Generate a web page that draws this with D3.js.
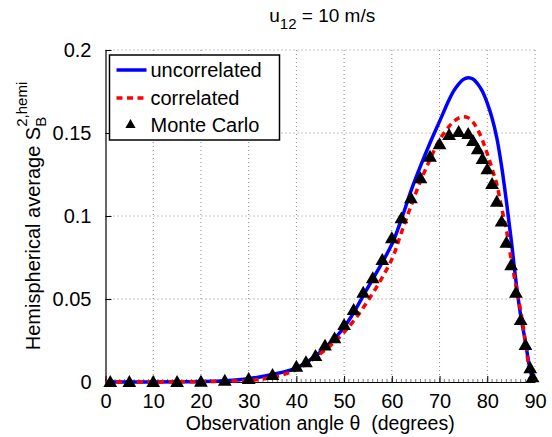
<!DOCTYPE html>
<html>
<head>
<meta charset="utf-8">
<script src="https://cdn.jsdelivr.net/npm/d3@7"></script>
<style>
  body { margin: 0; background: #fff; }
  text { font-family: "Liberation Sans", Arial, Helvetica, sans-serif; fill: #000; white-space: pre; }
</style>
</head>
<body>
<div id="chart"></div>
<script>
const margin = {'top':50,'right':17,'bottom':55,'left':105.5};
const width = 552 - margin.left - margin.right;
const height = 437 - margin.top - margin.bottom;

// curves (theta in degrees)
const theta = [0,5,10,15,20,25,30,35,40,45,50,55,60,62,64,66,68,70,72,73,74,75,76,77,78,79,80,81,82,83,84,85,86,87,88,88.5,89,89.5];
const uncorrelated = [0,0,0,0.0001,0.0003,0.0008,0.002,0.0045,0.0085,0.018,0.033,0.057,0.083,0.098,0.115,0.130,0.144,0.157,0.170,0.1755,0.1795,0.1823,0.1833,0.1825,0.1795,0.175,0.168,0.159,0.147,0.130,0.109,0.086,0.061,0.040,0.024,0.015,0.007,0.002];
const correlated = [0,0,0,0.0001,0.0002,0.0005,0.001,0.0028,0.0075,0.017,0.030,0.049,0.074,0.090,0.106,0.121,0.134,0.146,0.154,0.157,0.1590,0.1598,0.1592,0.1565,0.152,0.1455,0.1375,0.1285,0.119,0.105,0.0916,0.074,0.058,0.043,0.024,0.013,0.003,0.0005];

// Monte Carlo points
const mcTheta = [1,5,10,15,20,25,30,35,40,42,44,46,48,50,52,54,56,58,60,62,64,66,68,70,72,74,76,77,78,79,80,81,82,83,84,85,86,87,88,89,89.5];
const mcValue = [0,0,0,0,0.0002,0.0008,0.0018,0.0042,0.0092,0.0119,0.0157,0.0219,0.0263,0.0343,0.0434,0.0538,0.0625,0.0735,0.0866,0.0986,0.1107,0.1227,0.1357,0.1432,0.1488,0.1506,0.1494,0.1452,0.1402,0.1343,0.1281,0.1193,0.1086,0.0966,0.0839,0.0703,0.0538,0.0373,0.0223,0.0083,0.0028];

const xTicks = [0,10,20,30,40,50,60,70,80,90];
const yTicks = [0,0.05,0.1,0.15,0.2];
const legendLabels = ['uncorrelated','correlated','Monte Carlo'];

var svg, x, y;

function setup(){
  const root = d3.select('#chart')
    .append('svg')
    .attr('width', 552)
    .attr('height', 437);
  svg = root.append('g')
    .attr('transform', `translate(${margin.left},${margin.top})`);

  // title
  const t = root.append('text')
    .attr('x', margin.left + width/2 + 2)
    .attr('y', 22)
    .attr('text-anchor','middle')
    .style('font-size','19px');
  t.append('tspan').text('u');
  t.append('tspan').attr('dy',7).style('font-size','15px').text('12');
  t.append('tspan').attr('dy',-7).text(' = 10 m/s');
}

function setScales(){
  x = d3.scaleLinear().domain([0,90]).range([0,width]);
  y = d3.scaleLinear().domain([0,0.2]).range([height,0]);

  // dotted grid
  svg.append('g').selectAll('line')
    .data(xTicks.slice(1))
    .enter().append('line')
    .attr('x1', d => x(d)).attr('x2', d => x(d))
    .attr('y1', 0).attr('y2', height)
    .attr('stroke','#888').attr('stroke-width',1)
    .attr('stroke-dasharray','1,3');
  svg.append('g').selectAll('line')
    .data(yTicks.slice(1))
    .enter().append('line')
    .attr('y1', d => y(d)).attr('y2', d => y(d))
    .attr('x1', 0).attr('x2', width)
    .attr('stroke','#888').attr('stroke-width',1)
    .attr('stroke-dasharray','1,3');

  // minor ticks on x
  svg.append('g').selectAll('line')
    .data(d3.range(0,91,1))
    .enter().append('line')
    .attr('x1', d => x(d)).attr('x2', d => x(d))
    .attr('y1', height).attr('y2', height - 3)
    .attr('stroke','#555').attr('stroke-width',0.8);

  const xa = svg.append('g')
    .attr('transform', `translate(0,${height})`)
    .call(d3.axisBottom(x).tickValues(xTicks).tickSize(-6).tickPadding(12).tickSizeOuter(0));
  xa.selectAll('text').style('font-size','20px');
  xa.select('.domain').attr('stroke','#000').attr('stroke-width',1.2);

  const ya = svg.append('g')
    .call(d3.axisLeft(y).tickValues(yTicks).tickFormat(d3.format('~g')).tickSize(-6).tickPadding(14).tickSizeOuter(0));
  ya.selectAll('text').style('font-size','20px');
  ya.select('.domain').attr('stroke','#000').attr('stroke-width',1.2);
}

function setAxisLables(){
  svg.append('text')
    .attr('x', width/2)
    .attr('y', height + 48)
    .attr('text-anchor','middle')
    .style('font-size','19.5px')
    .text('Observation angle \u03b8  (degrees)');

  const yl = svg.append('text')
    .attr('transform', `translate(${-66},${height/2}) rotate(-90)`)
    .attr('text-anchor','middle')
    .style('font-size','20px');
  yl.append('tspan').text('Hemispherical average S');
  yl.append('tspan').attr('dy',6).style('font-size','15px').text('B');
  yl.append('tspan').attr('dx',-10).attr('dy',-19).style('font-size','15px').text('2,hemi');
}

function makeLines(){
  const pts = (vals) => theta.map((t,i) => [t, vals[i]]);
  const line = d3.line()
    .x(d => x(d[0])).y(d => y(d[1]))
    .curve(d3.curveCatmullRom.alpha(0.5));

  svg.append('path')
    .datum(pts(uncorrelated))
    .attr('d', line)
    .attr('fill','none')
    .attr('stroke','#0000ff')
    .attr('stroke-width',3.5);

  svg.append('path')
    .datum(pts(correlated))
    .attr('d', line)
    .attr('fill','none')
    .attr('stroke','#ff0000')
    .attr('stroke-width',3.5)
    .attr('stroke-dasharray','6,4.5');

  const tri = d3.symbol().type(d3.symbolTriangle).size(82);
  svg.selectAll('.mc')
    .data(mcTheta.map((t,i) => [t, mcValue[i]]))
    .enter().append('path')
    .attr('class','mc')
    .attr('d', tri)
    .attr('transform', d => `translate(${x(d[0])},${y(d[1]) + 1})`)
    .attr('fill','#000');
}

function makeLegend(){
  const lg = svg.append('g').attr('transform','translate(4,5)');
  lg.append('rect')
    .attr('width', 170).attr('height', 85)
    .attr('fill','#fff')
    .attr('stroke','#000').attr('stroke-width',1.5);
  const rows = [15, 43, 70];
  lg.append('line').attr('x1',7).attr('x2',37).attr('y1',rows[0]).attr('y2',rows[0])
    .attr('stroke','#0000ff').attr('stroke-width',3.5);
  lg.append('line').attr('x1',7).attr('x2',37).attr('y1',rows[1]).attr('y2',rows[1])
    .attr('stroke','#ff0000').attr('stroke-width',3.5).attr('stroke-dasharray','6,4.5');
  lg.append('path')
    .attr('d', d3.symbol().type(d3.symbolTriangle).size(45))
    .attr('transform', `translate(21,${rows[2]})`)
    .attr('fill','#000');
  lg.selectAll('.lt')
    .data(legendLabels)
    .enter().append('text')
    .attr('x', 41)
    .attr('y', (d,i) => rows[i])
    .attr('dy','0.36em')
    .style('font-size','20px')
    .text(d => d);
}

setup();
setScales();
setAxisLables();
makeLines();
makeLegend();
</script>
</body>
</html>
